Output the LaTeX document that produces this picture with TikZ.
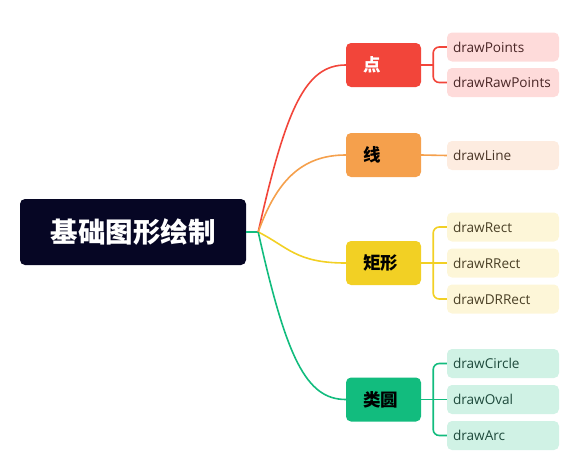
\documentclass[tikz,border=0pt]{standalone}
\usepackage{fontspec}
\setmainfont{Open Sans}
\newfontfamily\cjk{Noto Sans CJK SC}
\usetikzlibrary{calc}
\definecolor{cRoot}{HTML}{060624}
\definecolor{cRed}{HTML}{F2453A}
\definecolor{cOrange}{HTML}{F5A04C}
\definecolor{cYellow}{HTML}{F2D024}
\definecolor{cGreen}{HTML}{12BC7E}
\definecolor{lRed}{HTML}{FEDBDA}
\definecolor{lOrange}{HTML}{FDECE0}
\definecolor{lYellow}{HTML}{FDF6D8}
\definecolor{lGreen}{HTML}{D0F2E5}
\definecolor{tRed}{HTML}{4A2626}
\definecolor{tOrange}{HTML}{4A3526}
\definecolor{tYellow}{HTML}{4A4026}
\definecolor{tGreen}{HTML}{1E4A3C}
\begin{document}
\begin{tikzpicture}[x=1pt,y=-1pt,
  rootbox/.style={rounded corners=5pt,fill=cRoot,text=white,minimum width=226pt,minimum height=66pt,inner sep=0pt,font=\cjk\bfseries\fontsize{27.5}{32}\selectfont},
  branchbox/.style={rounded corners=5pt,minimum width=75pt,minimum height=44pt,inner xsep=17pt,inner ysep=0pt,text width=41pt,align=left,font=\cjk\bfseries\fontsize{17.5}{20}\selectfont},
  leafbox/.style={rounded corners=5pt,minimum width=112pt,minimum height=29pt,inner xsep=6pt,inner ysep=0pt,text width=100pt,align=left,font=\fontsize{13.6}{16}\selectfont},
  conn/.style={line width=1.6pt},
  sub/.style={line width=1.6pt,rounded corners=6pt}]
\useasboundingbox (0,0) rectangle (572,471);
% nodes
\node[rootbox] (root) at (133,232) {基础图形绘制};
\node[branchbox,fill=cRed,text=white] (p) at (383.5,65) {点};
\node[branchbox,fill=cOrange,text=black] (l) at (383.5,155) {线};
\node[branchbox,fill=cYellow,text=black] (r) at (383.5,263) {矩形};
\node[branchbox,fill=cGreen,text=black] (c) at (383.5,399.5) {类圆};
\node[leafbox,fill=lRed,text=tRed] (p1) at (503,47) {drawPoints};
\node[leafbox,fill=lRed,text=tRed] (p2) at (503,82.5) {drawRawPoints};
\node[leafbox,fill=lOrange,text=tOrange] (l1) at (503,155.5) {drawLine};
\node[leafbox,fill=lYellow,text=tYellow] (r1) at (503,227) {drawRect};
\node[leafbox,fill=lYellow,text=tYellow] (r2) at (503,263) {drawRRect};
\node[leafbox,fill=lYellow,text=tYellow] (r3) at (503,299) {drawDRRect};
\node[leafbox,fill=lGreen,text=tGreen] (c1) at (503,363.5) {drawCircle};
\node[leafbox,fill=lGreen,text=tGreen] (c2) at (503,399.5) {drawOval};
\node[leafbox,fill=lGreen,text=tGreen] (c3) at (503,435.5) {drawArc};
% main connectors
\coordinate (J) at ($(root.east)+(12,0)$);
\draw[conn,cGreen] (root.east) -- (J);
\draw[conn,cRed] (J) .. controls +(28,-125) and +(-40,0) .. (p.west);
\draw[conn,cOrange] (J) .. controls +(18,-50) and +(-45,0) .. (l.west);
\draw[conn,cYellow] (J) .. controls +(30,15) and +(-50,0) .. (r.west);
\draw[conn,cGreen] (J) .. controls +(28,125) and +(-40,0) .. (c.west);
% sub connectors
\coordinate (pj) at ($(p.east)+(12,0)$);
\coordinate (lj) at ($(l.east)+(12,0)$);
\coordinate (rj) at ($(r.east)+(12,0)$);
\coordinate (cj) at ($(c.east)+(12,0)$);
\draw[conn,cRed] (p.east) -- (pj);
\draw[sub,cRed] (pj) |- (p1.west);
\draw[sub,cRed] (pj) |- (p2.west);
\draw[conn,cOrange] (l.east) -- (l1.west);
\draw[conn,cYellow] (r.east) -- (r2.west);
\draw[sub,cYellow] (rj) |- (r1.west);
\draw[sub,cYellow] (rj) |- (r3.west);
\draw[conn,cGreen] (c.east) -- (c2.west);
\draw[sub,cGreen] (cj) |- (c1.west);
\draw[sub,cGreen] (cj) |- (c3.west);
\end{tikzpicture}
\end{document}
